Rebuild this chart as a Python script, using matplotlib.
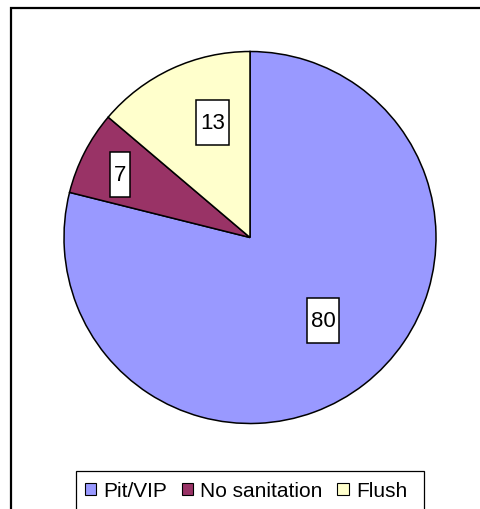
import matplotlib
matplotlib.use("Agg")
import matplotlib.pyplot as plt
from matplotlib.patches import Rectangle, Patch
from matplotlib.path import Path
import numpy as np

plt.rcParams['font.family'] = ['Liberation Sans', 'DejaVu Sans']

categories = ["Pit/VIP", "No sanitation", "Flush"]
values = [78.9, 7.3, 13.8]
value_labels = ["80", "7", "13"]
colors = ["#9999FF", "#993366", "#FFFFCC"]
label_dist = [0.594, 0.777, 0.65]
label_nudge = [3.3, 1.3, -6.8]  # degrees, counterclockwise

W, H = 481, 510
fig = plt.figure(figsize=(W / 100, H / 100), dpi=100)

cx, cy, r = 250, 238.5, 186
ax = fig.add_axes([(cx - r) / W, 1 - (cy + r) / H, 2 * r / W, 2 * r / H])
wedges, _ = ax.pie(values, colors=colors, startangle=90, counterclock=False,
                   wedgeprops=dict(edgecolor="black", linewidth=1.1))
ax.set_aspect("equal")
ax.set_xlim(-1, 1)
ax.set_ylim(-1, 1)


def rect_box(x0, y0, width, height, mutation_size, padx=0.18, pady=0.55):
    px = padx * mutation_size
    py = pady * mutation_size
    x0, y0 = x0 - px, y0 - py
    x1, y1 = x0 + width + 2 * px, y0 + height + 2 * py
    return Path([(x0, y0), (x1, y0), (x1, y1), (x0, y1), (x0, y0)], closed=True)


for w, lab, d, nd in zip(wedges, value_labels, label_dist, label_nudge):
    ang = np.deg2rad((w.theta1 + w.theta2) / 2 + nd)
    ax.text(d * np.cos(ang), d * np.sin(ang), lab, ha="center", va="center",
            fontsize=16, bbox=dict(boxstyle=rect_box, fc="white", ec="black", lw=1.1))

# outer chart frame
fig.patches.append(Rectangle((10.5 / W, -0.1), 1.2, 1 - 8.5 / H + 0.1, transform=fig.transFigure,
                             fill=False, edgecolor="black", linewidth=1.6))
# legend frame
fig.patches.append(Rectangle((76 / W, -0.1), (424 - 76) / W, 1 - 472 / H + 0.1, transform=fig.transFigure,
                             fill=False, edgecolor="black", linewidth=0.9))

handles = [Patch(facecolor=c, edgecolor="black", linewidth=0.8) for c in colors]
fig.legend(handles, categories, loc="center", bbox_to_anchor=(246 / W, 1 - 492 / H),
           ncol=3, frameon=False, fontsize=15, handlelength=0.55, handleheight=0.55,
           handletextpad=0.35, columnspacing=0.7, borderpad=0)

fig.savefig("out.png", dpi=100)
